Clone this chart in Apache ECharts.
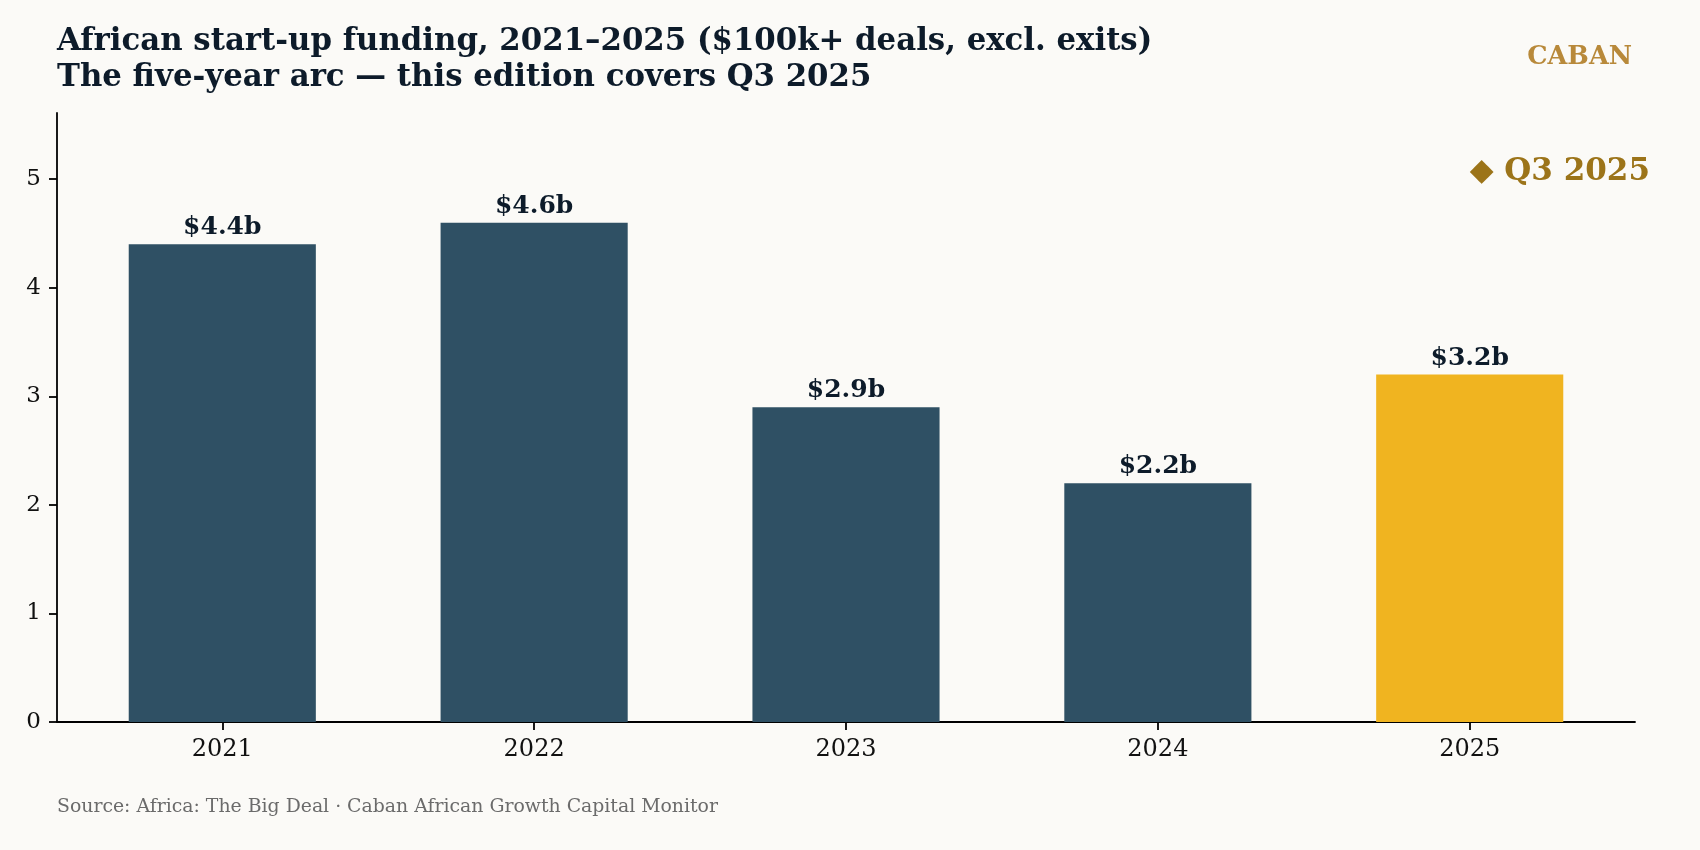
<!DOCTYPE html>
<html>
<head>
<meta charset="utf-8">
<script src="https://cdn.jsdelivr.net/npm/echarts@6/dist/echarts.min.js"></script>
<style>
html,body{margin:0;padding:0;background:#fbfaf7;}
#chart{width:1700px;height:850px;}
</style>
</head>
<body>
<div id="chart"></div>
<script>
// ---- data ----
const years = ['2021', '2022', '2023', '2024', '2025'];
const funding = [4.4, 4.6, 2.9, 2.2, 3.2];   // $ billions
const highlightYear = '2025';
const yTicks = [0, 1, 2, 3, 4, 5];
const annotationText = '◆ Q3 2025';
const annotationValue = 5.07;

const titleText = 'African start-up funding, 2021–2025 ($100k+ deals, excl. exits)\nThe five-year arc — this edition covers Q3 2025';
const sourceText = 'Source: Africa: The Big Deal · Caban African Growth Capital Monitor';
const brandText = 'CABAN';

// ---- styling ----
const FONT = 'DejaVu Serif';
const NAVY = '#2f5064';
const GOLD = '#f0b420';
const INK = '#0d1b2a';

const gridLeft = 57, gridRight = 65, gridTop = 113, gridBottom = 128;
const xMin = -0.53, xMax = years.length - 1 + 0.53;
const plotWidth = 1700 - gridLeft - gridRight;
const barWidthPx = 0.6 * plotWidth / (xMax - xMin);

const seriesData = funding.map((v, i) => ({
  value: [i, v],
  itemStyle: { color: years[i] === highlightYear ? GOLD : NAVY }
}));
const hiIdx = years.indexOf(highlightYear);

const chart = echarts.init(document.getElementById('chart'), null, { renderer: 'canvas' });
chart.setOption({
  backgroundColor: '#fbfaf7',
  animation: false,
  textStyle: { fontFamily: FONT },
  title: [
    {
      text: titleText,
      left: 57, top: 24, padding: 0,
      textStyle: { fontFamily: FONT, fontSize: 30.8, fontWeight: 'bold', color: INK, lineHeight: 36 }
    },
    {
      text: brandText,
      right: 68, top: 44, padding: 0,
      textStyle: { fontFamily: FONT, fontSize: 25.5, fontWeight: 'bold', color: '#b8893a' }
    },
    {
      text: sourceText,
      left: 57, top: 798, padding: 0,
      textStyle: { fontFamily: FONT, fontSize: 18.85, fontWeight: 'normal', color: '#6b6b6b' }
    }
  ],
  grid: { left: gridLeft, right: gridRight, top: gridTop, bottom: gridBottom, containLabel: false, outerBoundsMode: 'none' },
  xAxis: {
    type: 'value',
    min: xMin, max: xMax,
    splitLine: { show: false },
    axisLine: { show: true, onZero: false, lineStyle: { color: '#000', width: 1.8 } },
    axisTick: { show: true, customValues: years.map((_, i) => i), length: 8, lineStyle: { color: '#000', width: 1.8 } },
    axisLabel: {
      customValues: years.map((_, i) => i),
      formatter: v => years[Math.round(v)] || '',
      fontFamily: FONT, fontSize: 24, color: '#111', margin: 16
    }
  },
  yAxis: {
    type: 'value',
    min: 0, max: 5.61,
    splitLine: { show: false },
    axisLine: { show: true, onZero: false, lineStyle: { color: '#000', width: 1.8 } },
    axisTick: { show: true, customValues: yTicks, length: 8, lineStyle: { color: '#000', width: 1.8 } },
    axisLabel: { customValues: yTicks, fontFamily: FONT, fontSize: 23, color: '#111', margin: 16 }
  },
  series: [{
    type: 'bar',
    data: seriesData,
    barWidth: barWidthPx,
    label: {
      show: true, position: 'top', distance: 4,
      formatter: p => '$' + p.value[1].toFixed(1) + 'b',
      fontFamily: FONT, fontSize: 25, fontWeight: 'bold', color: INK
    },
    markPoint: {
      symbol: 'circle', symbolSize: 0,
      data: [{ coord: [hiIdx, annotationValue] }],
      label: {
        show: true, position: 'right', distance: 0,
        formatter: annotationText,
        fontFamily: FONT, fontSize: 31, fontWeight: 'bold', color: '#9c7419'
      }
    }
  }]
});
</script>
</body>
</html>
